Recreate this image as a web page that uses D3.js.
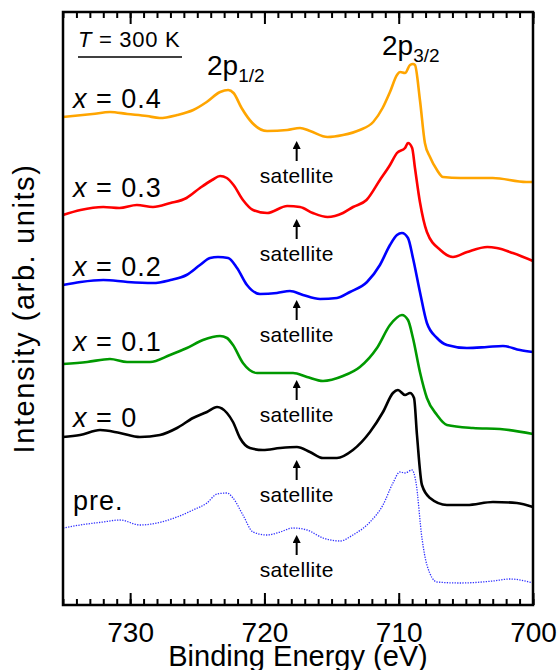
<!DOCTYPE html>
<html>
<head>
<meta charset="utf-8">
<script src="https://cdn.jsdelivr.net/npm/d3@7/dist/d3.min.js"></script>
<style>
  body { margin: 0; background: #fff; }
  svg { display: block; }
  text { font-family: "Liberation Sans", Arial, sans-serif; fill: #000; }
</style>
</head>
<body>
<div id="chart"></div>
<script>
// spectra: [binding energy (eV), intensity (arb. units, offset)]
var spec04 = [[735.0,488],[732.8,491],[731.5,493],[730.2,491],[728.75,489],[727.8,487],[726.5,490],[725.3,495],[724.3,503],[723.3,513],[722.7,515],[722.3,512],[721.7,497],[720.9,482],[719.8,474],[718.3,475],[717.35,477],[716.6,474],[715.3,468],[714.15,470],[712.9,475],[711.9,483],[711.2,497],[710.65,513],[710.13,530],[709.9,533],[709.53,532],[709.16,540],[708.94,541],[708.79,540],[708.42,505],[708.05,462],[707.67,448],[707.15,435],[706.7,428],[705.4,427],[703.0,427],[700.5,423],[700.0,423]];
var spec03 = [[735.0,390],[733.7,395],[732.0,398],[730.8,397],[729.5,400],[728.3,398],[727.0,402],[725.8,407],[724.8,417],[723.9,425],[723.3,429],[722.8,427],[722.3,420],[721.6,405],[720.85,395],[719.8,392],[718.3,399],[717.35,398],[716.4,392],[715.3,388],[714.15,392],[713.4,398],[712.4,405],[711.4,425],[710.65,440],[710.13,452],[709.53,457],[709.31,462],[709.0,457],[708.79,437],[708.42,403],[707.9,373],[706.9,355],[705.96,348],[704.9,353],[703.4,358],[702.7,357],[701.5,352],[700.0,344]];
var spec02 = [[735.0,320],[733.7,323],[732.0,325],[730.2,323],[728.3,322],[727.0,325],[725.8,330],[724.8,340],[724.05,347],[723.46,348],[722.7,347],[722.04,337],[721.3,320],[720.33,311],[719.07,312],[718.1,314],[717.13,310],[715.86,306],[714.6,307],[713.63,313],[712.36,323],[711.4,340],[710.65,360],[710.13,370],[709.76,372],[709.31,367],[708.94,347],[708.42,313],[707.9,282],[707.15,267],[706.41,260],[704.92,257],[703.43,258],[702.24,259],[700.97,255],[700.0,253]];
var spec01 = [[735.0,241],[733.2,243],[731.5,246],[730.23,243],[728.52,243],[727.03,250],[725.77,257],[724.58,265],[723.31,269],[722.79,267],[722.34,260],[721.6,242],[720.55,232],[719.36,232],[717.87,232],[716.83,228],[715.64,224],[714.15,229],[712.89,238],[711.62,257],[710.65,280],[709.76,290],[709.31,285],[708.94,267],[708.42,233],[707.9,207],[707.15,190],[706.41,180],[704.47,177],[702.46,176],[700.0,171]];
var spec00 = [[735.0,168],[733.73,170],[732.24,175],[730.76,172],[729.27,168],[727.78,170],[726.51,177],[725.32,187],[724.28,193],[723.53,198],[722.79,192],[722.34,183],[721.82,167],[721.08,157],[720.11,155],[718.84,157],[717.58,158],[716.61,153],[715.64,147],[714.6,147],[713.41,155],[712.14,173],[711.17,193],[710.43,212],[710.06,215],[709.53,210],[709.16,212],[708.86,207],[708.64,170],[708.27,120],[707.67,107],[706.41,100],[704.92,100],[702.98,103],[701.2,102],[700.0,98]];
var specPre = [[735.0,77],[733.73,80],[732.02,83],[730.76,85],[729.27,80],[728.0,82],[726.51,88],[725.32,95],[724.28,102],[723.53,111],[722.79,112],[722.34,107],[721.6,90],[720.85,73],[719.81,70],[718.84,73],[717.87,77],[716.83,75],[715.64,67],[714.37,64],[713.41,70],[712.14,83],[711.17,100],[710.43,122],[709.91,133],[709.53,132],[709.01,135],[708.72,123],[708.27,67],[707.9,40],[707.15,23],[705.44,22],[702.98,24],[701.72,26],[700.0,22]];

var seriesNames = ["0.4", "0.3", "0.2", "0.1", "0", "pre."];
var seriesData = [spec04, spec03, spec02, spec01, spec00, specPre];
var seriesColours = ["#ffa500", "#ff0000", "#0000ff", "#009900", "#000000", "#3030ff"];
var labelY = [497, 408, 329, 254, 178, 95];      // baseline of the x = ... labels
var satelliteE = 717.6;
var satelliteY = [422, 344, 263, 183, 103, 28];  // baseline of the "satellite" labels

var xDomain = [735, 700];
var majorTicks = [730, 720, 710, 700];
var minorTicks = d3.range(700, 736, 1);
var yDomain = [0, 593];

//SVG STUFF:
var width = 560, height = 670;
var margin = {left: 63, right: 27, top: 12, bottom: 65};

var svg = d3.select("#chart").append("svg")
  .attr("width", width).attr("height", height)
  .attr("viewBox", "0,0," + width + "," + height);

var x = d3.scaleLinear().domain(xDomain).range([margin.left, width - margin.right]);
var y = d3.scaleLinear().domain(yDomain).range([height - margin.bottom, margin.top]);

var line = d3.line()
  .x(function(d){ return x(d[0]); })
  .y(function(d){ return y(d[1]); })
  .curve(d3.curveMonotoneX);

//curves
seriesData.forEach(function(data, i){
  var isPre = (seriesNames[i] == "pre.");
  svg.append("path")
    .attr("d", line(data))
    .attr("fill", "none")
    .attr("stroke", seriesColours[i])
    .attr("stroke-width", isPre ? 1.3 : 2.6)
    .attr("stroke-linejoin", "round")
    .attr("stroke-dasharray", isPre ? "1.3,1.3" : null);
});

//axes, ticks point inward
var bottom = height - margin.bottom;
var gMinorB = svg.append("g").attr("transform", "translate(0," + bottom + ")")
  .call(d3.axisBottom(x).tickValues(minorTicks).tickSize(-6).tickFormat(""));
var gMajorB = svg.append("g").attr("transform", "translate(0," + bottom + ")")
  .call(d3.axisBottom(x).tickValues(majorTicks).tickSize(-12).tickPadding(17).tickFormat(d3.format("d")));
var gMinorT = svg.append("g").attr("transform", "translate(0," + margin.top + ")")
  .call(d3.axisTop(x).tickValues(minorTicks).tickSize(-6).tickFormat(""));
var gMajorT = svg.append("g").attr("transform", "translate(0," + margin.top + ")")
  .call(d3.axisTop(x).tickValues(majorTicks).tickSize(-12).tickFormat(""));
[gMinorB, gMajorB, gMinorT, gMajorT].forEach(function(g){
  g.select(".domain").remove();
  g.selectAll(".tick line").attr("stroke", "#000").attr("stroke-width", 2);
});
gMajorB.selectAll(".tick text")
  .attr("font-size", "28px")
  .attr("font-family", "Liberation Sans, Arial, sans-serif")
  .attr("fill", "#000");

//frame
svg.append("rect")
  .attr("x", margin.left).attr("y", margin.top)
  .attr("width", width - margin.left - margin.right)
  .attr("height", height - margin.top - margin.bottom)
  .attr("fill", "none").attr("stroke", "#000").attr("stroke-width", 2.5);

//axis titles
svg.append("text")
  .attr("x", (margin.left + width - margin.right) / 2).attr("y", 666)
  .attr("text-anchor", "middle").attr("font-size", "29px")
  .text("Binding Energy (eV)");
svg.append("text")
  .attr("transform", "translate(34," + ((margin.top + bottom) / 2) + ") rotate(-90)")
  .attr("text-anchor", "middle").attr("font-size", "29px")
  .attr("letter-spacing", "1.6px")
  .text("Intensity (arb. units)");

//temperature
var tt = svg.append("text").attr("x", 78).attr("y", 47).attr("font-size", "22px")
  .attr("letter-spacing", "0.7px");
tt.append("tspan").attr("font-style", "italic").text("T");
tt.append("tspan").text(" = 300 K");
svg.append("line").attr("x1", 78).attr("x2", 182).attr("y1", 57).attr("y2", 57)
  .attr("stroke", "#000").attr("stroke-width", 1.5);

//series labels
seriesNames.forEach(function(name, i){
  var t = svg.append("text").attr("x", 73).attr("y", y(labelY[i]))
    .attr("font-size", "27px").attr("letter-spacing", "1px");
  if(name == "pre."){
    t.text(name);
  } else {
    t.append("tspan").attr("font-style", "italic").text("x");
    t.append("tspan").text(" = " + name);
  }
});

//peak labels
function peakLabel(px, py, sub){
  var t = svg.append("text").attr("x", px).attr("y", py).attr("font-size", "28px");
  t.append("tspan").text("2p");
  t.append("tspan").attr("font-size", "19px").attr("dy", 7).text(sub);
}
peakLabel(207, 75, "1/2");
peakLabel(382, 55, "3/2");

//satellite arrows
svg.append("defs").append("marker")
  .attr("id", "arrow")
  .attr("viewBox", [0, 0, 10, 10])
  .attr("refX", 5).attr("refY", 5)
  .attr("markerWidth", 4).attr("markerHeight", 4)
  .attr("orient", "auto")
  .append("path").attr("d", "M0,0L10,5L0,10Z").attr("fill", "#000");

satelliteY.forEach(function(v){
  var base = y(v);
  svg.append("text")
    .attr("x", x(satelliteE)).attr("y", base)
    .attr("text-anchor", "middle").attr("font-size", "21px")
    .attr("letter-spacing", "0.3px")
    .text("satellite");
  svg.append("line")
    .attr("x1", x(satelliteE)).attr("x2", x(satelliteE))
    .attr("y1", base - 22).attr("y2", base - 38)
    .attr("stroke", "#000").attr("stroke-width", 2)
    .attr("marker-end", "url(#arrow)");
});
</script>
</body>
</html>
